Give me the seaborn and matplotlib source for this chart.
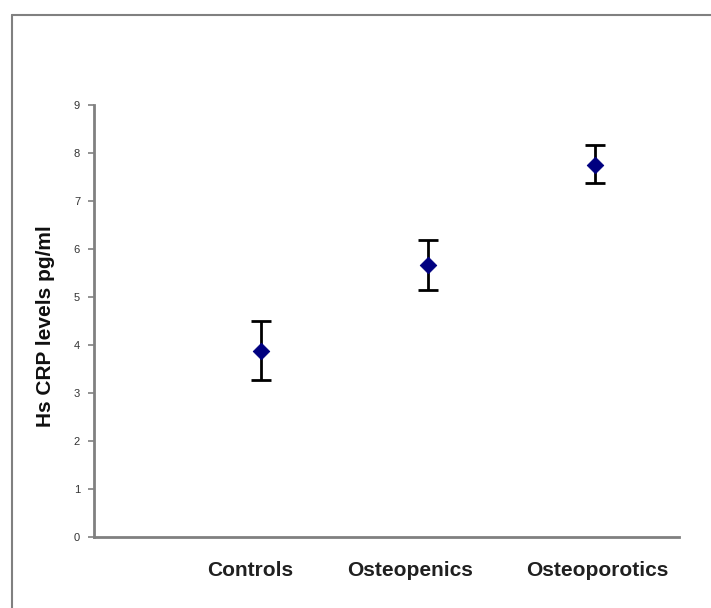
import matplotlib
matplotlib.use("Agg")
import matplotlib.pyplot as plt
import matplotlib.transforms as mtransforms
import seaborn as sns
import pandas as pd
import numpy as np
from matplotlib.lines import Line2D

categories = ["Controls", "Osteopenics", "Osteoporotics"]
means = [3.88, 5.66, 7.76]
lower = [3.28, 5.15, 7.37]
upper = [4.49, 6.18, 8.17]
yticks = [0, 1, 2, 3, 4, 5, 6, 7, 8, 9]

sns.set_theme(style="white")
plt.rcParams['font.family'] = ['Liberation Sans', 'DejaVu Sans']

df = pd.DataFrame({"group": categories, "mean": means, "lo": lower, "hi": upper})
df["pos"] = np.arange(1, len(categories) + 1)

W, H = 711, 608
fig = plt.figure(figsize=(W / 100, H / 100), dpi=100)
ax = fig.add_axes([94 / W, 1 - 537 / H, (679 - 94) / W, (537 - 105) / H])

yerr = np.array([df["mean"] - df["lo"], df["hi"] - df["mean"]])
ax.errorbar(df["pos"], df["mean"], yerr=yerr, fmt="none", ecolor="black",
            elinewidth=2, capsize=7, capthick=2, zorder=2)
sns.scatterplot(data=df, x="pos", y="mean", marker="D", s=70, color="#000080",
                edgecolor="#000080", ax=ax, zorder=3, legend=False)

ax.set_xlim(0, 3.5)
ax.set_ylim(0, 9)
ax.set_yticks(yticks)
ax.set_yticklabels([str(t) for t in yticks], fontsize=8, color="#333333")
ax.set_xticks(df["pos"])
ax.set_xticklabels(categories, fontsize=15, fontweight="bold", color="#202020")
ax.tick_params(axis="x", length=0, pad=17)
ax.tick_params(axis="y", length=4, width=1.2, color="#808080", pad=6, left=True)
# slight horizontal offsets of category labels as in the original
offsets_px = [-11, -18, 1.5]
for lab, dx in zip(ax.get_xticklabels(), offsets_px):
    lab.set_transform(lab.get_transform() + mtransforms.ScaledTranslation(dx / 100, 0, fig.dpi_scale_trans))
ax.set_xlabel("")
ax.set_ylabel("Hs CRP levels pg/ml", fontsize=15, fontweight="bold", color="#101010")
ax.yaxis.set_label_coords(-39 / (679 - 94), 0.5 - 5 / (537 - 105))
for s in ["top", "right"]:
    ax.spines[s].set_visible(False)
for s in ["left", "bottom"]:
    ax.spines[s].set_color("#808080")
    ax.spines[s].set_linewidth(2)

# outer frame
x0, y0 = 12 / W, 1 - 15 / H
fig.add_artist(Line2D([x0, x0], [-0.05, y0], transform=fig.transFigure, color="#808080", lw=1.5))
fig.add_artist(Line2D([x0, 1.05], [y0, y0], transform=fig.transFigure, color="#808080", lw=1.5))

fig.savefig("out.png", dpi=100, facecolor="white")
